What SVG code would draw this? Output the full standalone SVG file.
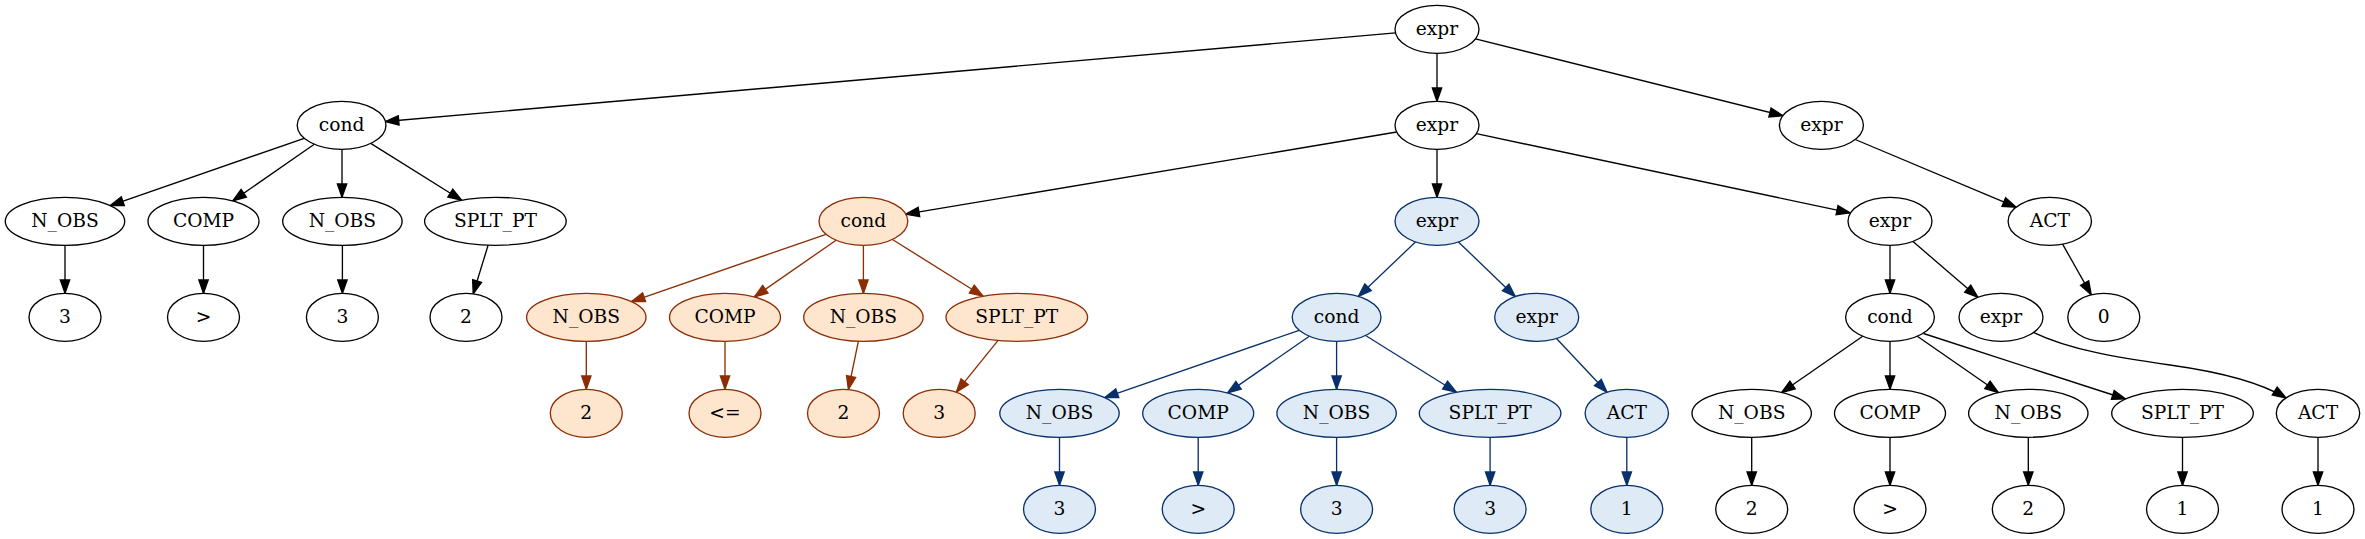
<svg xmlns="http://www.w3.org/2000/svg" width="2365" height="539" viewBox="0 0 2365 539">
<defs>
<style>
ellipse{fill:#ffffff;stroke:#000000;stroke-width:1.33}
.o ellipse{fill:#fee6ce;stroke:#8c2d04}
.b ellipse{fill:#deebf7;stroke:#08306b}
text{font-family:"DejaVu Serif","Liberation Serif",serif;font-size:18.67px;text-anchor:middle;fill:#000000}
#edges line,#edges path{stroke:#000000;stroke-width:1.33;fill:none;marker-end:url(#ak)}
#edges .eo{stroke:#8c2d04;marker-end:url(#ao)}
#edges .eb{stroke:#08306b;marker-end:url(#ab)}
</style>
<marker id="ak" markerUnits="userSpaceOnUse" markerWidth="16" markerHeight="12" refX="13.33" refY="4.67" orient="auto" overflow="visible"><path d="M0,0 L13.33,4.67 L0,9.33 Z" fill="#000000" stroke="#000000" stroke-width="1.33"/></marker>
<marker id="ao" markerUnits="userSpaceOnUse" markerWidth="16" markerHeight="12" refX="13.33" refY="4.67" orient="auto" overflow="visible"><path d="M0,0 L13.33,4.67 L0,9.33 Z" fill="#8c2d04" stroke="#8c2d04" stroke-width="1.33"/></marker>
<marker id="ab" markerUnits="userSpaceOnUse" markerWidth="16" markerHeight="12" refX="13.33" refY="4.67" orient="auto" overflow="visible"><path d="M0,0 L13.33,4.67 L0,9.33 Z" fill="#08306b" stroke="#08306b" stroke-width="1.33"/></marker>
</defs>
<rect x="0" y="0" width="2365" height="539" fill="#ffffff"/>
<g id="edges">
<line x1="1395.5" y1="32.9" x2="385.4" y2="121.5"/>
<line x1="1437" y1="53.3" x2="1437" y2="101.3"/>
<line x1="1475.5" y1="38.9" x2="1782.9" y2="115.7"/>
<line x1="304.2" y1="138.3" x2="110.2" y2="205.6"/>
<line x1="314.3" y1="144.3" x2="232.8" y2="200.9"/>
<line x1="342" y1="149.3" x2="342" y2="197.3"/>
<line x1="370.7" y1="143.4" x2="461.6" y2="200.2"/>
<line x1="65" y1="245.3" x2="65" y2="293.3"/>
<line x1="203.5" y1="245.3" x2="203.5" y2="293.3"/>
<line x1="342.4" y1="245.3" x2="342.4" y2="293.3"/>
<line x1="488.1" y1="245.2" x2="473.2" y2="293.8"/>
<line x1="1396.7" y1="132" x2="905.8" y2="214.2"/>
<line x1="1437" y1="149.3" x2="1437" y2="197.3"/>
<line x1="1476.4" y1="133.7" x2="1850.1" y2="212.9"/>
<line x1="1855.2" y1="139.5" x2="2016.1" y2="207.2"/>
<line x1="1890" y1="245.3" x2="1890" y2="293.3"/>
<line x1="1912.7" y1="241.3" x2="1977.8" y2="297.3"/>
<line x1="2062.6" y1="244.1" x2="2091.2" y2="294.8"/>
<line x1="1862.7" y1="336.2" x2="1781.6" y2="392.5"/>
<line x1="1890" y1="341.3" x2="1890" y2="389.3"/>
<line x1="1917.3" y1="336.2" x2="1998.4" y2="392.5"/>
<line x1="1923.5" y1="333.5" x2="2125.5" y2="399"/>
<path d="M2033.3,332.3 C2070,350 2120,358 2170,365 C2220,372 2260,382 2286,398"/>
<line x1="1751.7" y1="437.3" x2="1751.7" y2="485.3"/>
<line x1="1890" y1="437.3" x2="1890" y2="485.3"/>
<line x1="2028.3" y1="437.3" x2="2028.3" y2="485.3"/>
<line x1="2182.5" y1="437.3" x2="2182.5" y2="485.3"/>
<line x1="2318" y1="437.3" x2="2318" y2="485.3"/>
<line class="eo" x1="826" y1="234.3" x2="631.5" y2="301.6"/>
<line class="eo" x1="836.1" y1="240.2" x2="754.4" y2="296.9"/>
<line class="eo" x1="863.4" y1="245.3" x2="863.4" y2="293.3"/>
<line class="eo" x1="892.4" y1="239.5" x2="983.1" y2="296.2"/>
<line class="eo" x1="586.3" y1="341.3" x2="586.3" y2="389.3"/>
<line class="eo" x1="725" y1="341.3" x2="725" y2="389.3"/>
<line class="eo" x1="858.4" y1="341.2" x2="848.4" y2="389.5"/>
<line class="eo" x1="998.1" y1="340.4" x2="956.3" y2="392.2"/>
<line class="eb" x1="1415.5" y1="241.9" x2="1358.4" y2="296.4"/>
<line class="eb" x1="1458.4" y1="241.9" x2="1515.3" y2="296.7"/>
<line class="eb" x1="1299.2" y1="330.3" x2="1104.7" y2="397.6"/>
<line class="eb" x1="1309.3" y1="336.2" x2="1227.6" y2="392.9"/>
<line class="eb" x1="1336.6" y1="341.3" x2="1336.6" y2="389.3"/>
<line class="eb" x1="1365.6" y1="335.5" x2="1456.4" y2="392.2"/>
<line class="eb" x1="1059.5" y1="437.3" x2="1059.5" y2="485.3"/>
<line class="eb" x1="1198.2" y1="437.3" x2="1198.2" y2="485.3"/>
<line class="eb" x1="1336.6" y1="437.3" x2="1336.6" y2="485.3"/>
<line class="eb" x1="1490.1" y1="437.3" x2="1490.1" y2="485.3"/>
<line class="eb" x1="1556.5" y1="338.5" x2="1607" y2="392.2"/>
<line class="eb" x1="1626.8" y1="437.3" x2="1626.8" y2="485.3"/>
</g>
<g id="n0"><ellipse cx="1437" cy="29.3" rx="42" ry="24"/><text x="1437" y="34.8">expr</text></g>
<g id="n1"><ellipse cx="341.6" cy="125.3" rx="44.4" ry="24"/><text x="341.6" y="130.8">cond</text></g>
<g id="n2"><ellipse cx="1437" cy="125.3" rx="42" ry="24"/><text x="1437" y="130.8">expr</text></g>
<g id="n3"><ellipse cx="1821.4" cy="125.3" rx="42" ry="24"/><text x="1821.4" y="130.8">expr</text></g>
<g id="n4"><ellipse cx="65" cy="221.3" rx="59.7" ry="24"/><text x="65" y="226.8">N_OBS</text></g>
<g id="n5"><ellipse cx="203.5" cy="221.3" rx="55.5" ry="24"/><text x="203.5" y="226.8">COMP</text></g>
<g id="n6"><ellipse cx="342.4" cy="221.3" rx="59.7" ry="24"/><text x="342.4" y="226.8">N_OBS</text></g>
<g id="n7"><ellipse cx="495.4" cy="221.3" rx="70.8" ry="24"/><text x="495.4" y="226.8">SPLT_PT</text></g>
<g id="n8" class="o"><ellipse cx="863.4" cy="221.3" rx="44.4" ry="24"/><text x="863.4" y="226.8">cond</text></g>
<g id="n9" class="b"><ellipse cx="1437" cy="221.3" rx="42" ry="24"/><text x="1437" y="226.8">expr</text></g>
<g id="n10"><ellipse cx="1890" cy="221.3" rx="42" ry="24"/><text x="1890" y="226.8">expr</text></g>
<g id="n11"><ellipse cx="2049.8" cy="221.3" rx="41.7" ry="24"/><text x="2049.8" y="226.8">ACT</text></g>
<g id="n12"><ellipse cx="65" cy="317.3" rx="36" ry="24"/><text x="65" y="322.8">3</text></g>
<g id="n13"><ellipse cx="203.5" cy="317.3" rx="36" ry="24"/><text x="203.5" y="322.8">&gt;</text></g>
<g id="n14"><ellipse cx="342.4" cy="317.3" rx="36" ry="24"/><text x="342.4" y="322.8">3</text></g>
<g id="n15"><ellipse cx="466" cy="317.3" rx="36" ry="24"/><text x="466" y="322.8">2</text></g>
<g id="n16" class="o"><ellipse cx="586.3" cy="317.3" rx="59.7" ry="24"/><text x="586.3" y="322.8">N_OBS</text></g>
<g id="n17" class="o"><ellipse cx="725" cy="317.3" rx="55.5" ry="24"/><text x="725" y="322.8">COMP</text></g>
<g id="n18" class="o"><ellipse cx="863.4" cy="317.3" rx="59.7" ry="24"/><text x="863.4" y="322.8">N_OBS</text></g>
<g id="n19" class="o"><ellipse cx="1016.8" cy="317.3" rx="70.8" ry="24"/><text x="1016.8" y="322.8">SPLT_PT</text></g>
<g id="n20" class="b"><ellipse cx="1336.6" cy="317.3" rx="44.4" ry="24"/><text x="1336.6" y="322.8">cond</text></g>
<g id="n21" class="b"><ellipse cx="1536.7" cy="317.3" rx="42" ry="24"/><text x="1536.7" y="322.8">expr</text></g>
<g id="n22"><ellipse cx="1890" cy="317.3" rx="44.4" ry="24"/><text x="1890" y="322.8">cond</text></g>
<g id="n23"><ellipse cx="2001" cy="317.3" rx="42" ry="24"/><text x="2001" y="322.8">expr</text></g>
<g id="n24"><ellipse cx="2103.8" cy="317.3" rx="36" ry="24"/><text x="2103.8" y="322.8">0</text></g>
<g id="n25" class="o"><ellipse cx="586.3" cy="413.3" rx="36" ry="24"/><text x="586.3" y="418.8">2</text></g>
<g id="n26" class="o"><ellipse cx="725" cy="413.3" rx="36" ry="24"/><text x="725" y="418.8">&lt;=</text></g>
<g id="n27" class="o"><ellipse cx="843.5" cy="413.3" rx="36" ry="24"/><text x="843.5" y="418.8">2</text></g>
<g id="n28" class="o"><ellipse cx="939.2" cy="413.3" rx="36" ry="24"/><text x="939.2" y="418.8">3</text></g>
<g id="n29" class="b"><ellipse cx="1059.5" cy="413.3" rx="59.7" ry="24"/><text x="1059.5" y="418.8">N_OBS</text></g>
<g id="n30" class="b"><ellipse cx="1198.2" cy="413.3" rx="55.5" ry="24"/><text x="1198.2" y="418.8">COMP</text></g>
<g id="n31" class="b"><ellipse cx="1336.6" cy="413.3" rx="59.7" ry="24"/><text x="1336.6" y="418.8">N_OBS</text></g>
<g id="n32" class="b"><ellipse cx="1490.1" cy="413.3" rx="70.8" ry="24"/><text x="1490.1" y="418.8">SPLT_PT</text></g>
<g id="n33" class="b"><ellipse cx="1626.8" cy="413.3" rx="41.7" ry="24"/><text x="1626.8" y="418.8">ACT</text></g>
<g id="n34"><ellipse cx="1751.7" cy="413.3" rx="59.7" ry="24"/><text x="1751.7" y="418.8">N_OBS</text></g>
<g id="n35"><ellipse cx="1890" cy="413.3" rx="55.5" ry="24"/><text x="1890" y="418.8">COMP</text></g>
<g id="n36"><ellipse cx="2028.3" cy="413.3" rx="59.7" ry="24"/><text x="2028.3" y="418.8">N_OBS</text></g>
<g id="n37"><ellipse cx="2182.5" cy="413.3" rx="70.8" ry="24"/><text x="2182.5" y="418.8">SPLT_PT</text></g>
<g id="n38"><ellipse cx="2318" cy="413.3" rx="41.7" ry="24"/><text x="2318" y="418.8">ACT</text></g>
<g id="n39" class="b"><ellipse cx="1059.5" cy="509.3" rx="36" ry="24"/><text x="1059.5" y="514.8">3</text></g>
<g id="n40" class="b"><ellipse cx="1198.2" cy="509.3" rx="36" ry="24"/><text x="1198.2" y="514.8">&gt;</text></g>
<g id="n41" class="b"><ellipse cx="1336.6" cy="509.3" rx="36" ry="24"/><text x="1336.6" y="514.8">3</text></g>
<g id="n42" class="b"><ellipse cx="1490.1" cy="509.3" rx="36" ry="24"/><text x="1490.1" y="514.8">3</text></g>
<g id="n43" class="b"><ellipse cx="1626.8" cy="509.3" rx="36" ry="24"/><text x="1626.8" y="514.8">1</text></g>
<g id="n44"><ellipse cx="1751.7" cy="509.3" rx="36" ry="24"/><text x="1751.7" y="514.8">2</text></g>
<g id="n45"><ellipse cx="1890" cy="509.3" rx="36" ry="24"/><text x="1890" y="514.8">&gt;</text></g>
<g id="n46"><ellipse cx="2028.3" cy="509.3" rx="36" ry="24"/><text x="2028.3" y="514.8">2</text></g>
<g id="n47"><ellipse cx="2182.5" cy="509.3" rx="36" ry="24"/><text x="2182.5" y="514.8">1</text></g>
<g id="n48"><ellipse cx="2318" cy="509.3" rx="36" ry="24"/><text x="2318" y="514.8">1</text></g>
</svg>
